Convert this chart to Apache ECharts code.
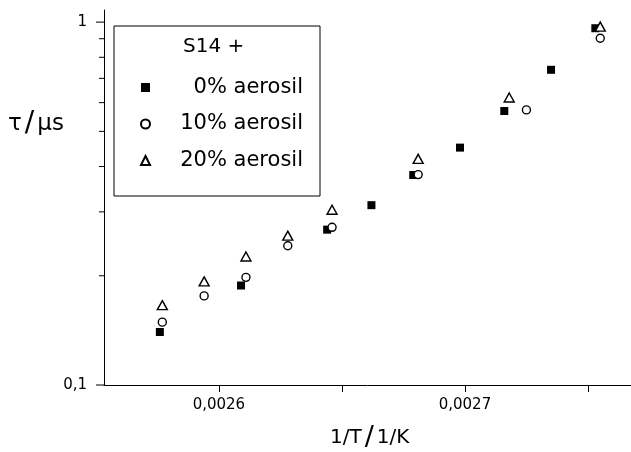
<!DOCTYPE html>
<html>
<head>
<meta charset="utf-8">
<script src="https://cdn.jsdelivr.net/npm/echarts@6/dist/echarts.min.js"></script>
<style>
html, body { margin: 0; padding: 0; background: #fff; }
#main { width: 631px; height: 452px; }
</style>
</head>
<body>
<div id="main"></div>
<script>
// S14 + aerosil: relaxation time vs inverse temperature
var seriesNames = ['0% aerosil', '10% aerosil', '20% aerosil'];

var x0 = [0.002576, 0.002609, 0.002644, 0.002662, 0.002679, 0.002698, 0.002716, 0.002735, 0.002753];
var y0 = [0.140, 0.188, 0.268, 0.313, 0.379, 0.451, 0.569, 0.739, 0.962];

var x10 = [0.002577, 0.002594, 0.002611, 0.002628, 0.002646, 0.002681, 0.002725, 0.002755];
var y10 = [0.149, 0.176, 0.198, 0.242, 0.272, 0.380, 0.573, 0.903];

var x20 = [0.002577, 0.002594, 0.002611, 0.002628, 0.002646, 0.002681, 0.002718, 0.002755];
var y20 = [0.166, 0.193, 0.226, 0.258, 0.304, 0.420, 0.620, 0.972];

var xTickValues = [0.0026, 0.00265, 0.0027, 0.00275];
var xLabelValues = [0.0026, 0.0027];
var xLabelTexts = ['0,0026', '0,0027'];
var yLabelValues = [0.1, 1];
var yLabelTexts = ['0,1', '1'];
var yTickValues = [0.1, 0.2, 0.3, 0.4, 0.5, 0.6, 0.7, 0.8, 0.9, 1];

var xMin = 0.0025533, xMax = 0.0027675;
var FONT = 'DejaVu Sans';

function pairs(xs, ys) {
    var out = [];
    for (var i = 0; i < xs.length; i++) out.push([xs[i], ys[i]]);
    return out;
}

function lookup(v, vals, texts) {
    for (var i = 0; i < vals.length; i++) {
        if (Math.abs(v - vals[i]) < vals[i] * 1e-6) return texts[i];
    }
    return '';
}

window.onload = function () {
    var myChart = echarts.init(document.getElementById('main'), null, {renderer: 'canvas'});

    var hollow = {color: '#fff', borderColor: '#000', borderWidth: 1.4, opacity: 1};

    var option = {
        backgroundColor: '#fff',
        animation: false,
        title: [
            {text: 'S14 +', left: 183, top: 37, padding: 0,
             textStyle: {fontFamily: FONT, fontSize: 20, fontWeight: 'normal', color: '#000'}},
            {text: '{a|τ}{b|/}{a|μs}', left: 8, top: 110, padding: 0,
             textStyle: {fontWeight: 'normal', rich: {
                 a: {fontFamily: FONT, fontSize: 23, fontWeight: 'normal', color: '#000'},
                 b: {fontFamily: FONT, fontSize: 28, fontWeight: 'normal', color: '#000', padding: [0, 3, 0, 3]}
             }}},
            {text: '{a|1/T}{b|/}{a|1/K}', left: 330, top: 424, padding: 0,
             textStyle: {fontWeight: 'normal', rich: {
                 a: {fontFamily: FONT, fontSize: 20, fontWeight: 'normal', color: '#000'},
                 b: {fontFamily: FONT, fontSize: 27, fontWeight: 'normal', color: '#000', padding: [0, 3, 0, 3]}
             }}}
        ],
        legend: {
            data: seriesNames,
            orient: 'vertical',
            left: 114,
            top: 26,
            padding: [51, 17, 25, 26],
            itemGap: 15.5,
            itemWidth: 9,
            itemHeight: 9,
            borderColor: '#000',
            borderWidth: 1,
            backgroundColor: '#fff',
            selectedMode: false,
            formatter: function (name) { return '{n|' + name + '}'; },
            textStyle: {
                rich: {n: {fontFamily: FONT, fontSize: 21, color: '#000', width: 148, align: 'right', lineHeight: 20}}
            }
        },
        grid: {left: 104, right: 0, top: 10, bottom: 67},
        xAxis: {
            type: 'value',
            min: xMin,
            max: xMax,
            splitLine: {show: false},
            axisLine: {lineStyle: {color: '#000', width: 1}},
            axisTick: {length: 7, customValues: xTickValues, lineStyle: {color: '#000'}},
            axisLabel: {
                margin: 13,
                customValues: xLabelValues,
                fontFamily: FONT, fontSize: 15, color: '#000',
                formatter: function (v) { return lookup(v, xLabelValues, xLabelTexts); }
            }
        },
        yAxis: {
            type: 'log',
            logBase: 10,
            min: 0.1,
            max: 1.08,
            splitLine: {show: false},
            axisLine: {show: true, lineStyle: {color: '#000', width: 1}},
            axisTick: {show: false},
            axisLabel: {
                margin: 17,
                fontFamily: FONT, fontSize: 15, color: '#000',
                formatter: function (v) { return lookup(v, yLabelValues, yLabelTexts); }
            }
        },
        series: [
            {
                name: seriesNames[0], type: 'scatter', symbol: 'rect', symbolSize: 8,
                itemStyle: {color: '#000', opacity: 1},
                data: pairs(x0, y0)
            },
            {
                name: seriesNames[1], type: 'scatter', symbol: 'circle', symbolSize: 8,
                itemStyle: hollow,
                data: pairs(x10, y10)
            },
            {
                name: seriesNames[2], type: 'scatter', symbol: 'triangle', symbolSize: [10, 9],
                itemStyle: hollow,
                data: pairs(x20, y20)
            },
            {
                // y-axis ticks at 0.1..1 (log minor ticks)
                type: 'custom', silent: true, clip: false,
                data: yTickValues.map(function (v) { return [xMin, v]; }),
                renderItem: function (params, api) {
                    var p = api.coord([api.value(0), api.value(1)]);
                    var lg = Math.log(api.value(1)) / Math.LN10;
                    var len = Math.abs(lg - Math.round(lg)) < 1e-6 ? 8 : 5;
                    return {
                        type: 'line',
                        shape: {x1: p[0] - len, y1: p[1], x2: p[0], y2: p[1]},
                        style: {stroke: '#000', lineWidth: 1}
                    };
                }
            }
        ]
    };

    myChart.setOption(option);
};
</script>
</body>
</html>
